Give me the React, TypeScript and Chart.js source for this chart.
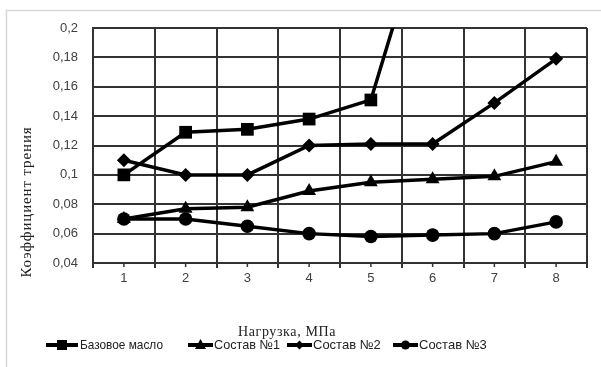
import React, { useEffect, useRef } from 'react';
import { Chart, registerables } from 'chart.js';

Chart.register(...registerables);

// ---- Data ----
const categories = ['1', '2', '3', '4', '5', '6', '7', '8'];
const baseOil = [0.1, 0.129, 0.131, 0.138, 0.151, 0.29, null, null];
const comp1 = [0.07, 0.077, 0.078, 0.089, 0.095, 0.097, 0.099, 0.109];
const comp2 = [0.11, 0.1, 0.1, 0.12, 0.121, 0.121, 0.149, 0.179];
const comp3 = [0.07, 0.07, 0.065, 0.06, 0.058, 0.059, 0.06, 0.068];
const seriesNames = ['Базовое масло', 'Состав №1', 'Состав №2', 'Состав №3'];
const seriesMarkers = ['rect', 'triangle', 'rectRot', 'circle'];
const yTitle = 'Коэффициент трения';
const xTitle = 'Нагрузка, МПа';
const yMin = 0.04;
const yMax = 0.2;
const yStep = 0.02;

const GRID = '#333333';
const TICK_COLOR = '#404040';

function drawMarker(ctx: CanvasRenderingContext2D, style: string, x: number, y: number, s: number) {
  ctx.beginPath();
  if (style === 'rect') {
    ctx.rect(x - s / 2, y - s / 2, s, s);
  } else if (style === 'triangle') {
    ctx.moveTo(x, y - s * 0.6);
    ctx.lineTo(x + s * 0.55, y + s * 0.4);
    ctx.lineTo(x - s * 0.55, y + s * 0.4);
    ctx.closePath();
  } else if (style === 'rectRot') {
    ctx.moveTo(x, y - s / 2);
    ctx.lineTo(x + s / 2, y);
    ctx.lineTo(x, y + s / 2);
    ctx.lineTo(x - s / 2, y);
    ctx.closePath();
  } else {
    ctx.arc(x, y, s / 2, 0, Math.PI * 2);
  }
  ctx.fill();
}

function fitText(ctx: CanvasRenderingContext2D, text: string, target: number) {
  (ctx as any).letterSpacing = '0px';
  const w = ctx.measureText(text).width;
  const ls = (target - w) / Math.max(1, text.length);
  (ctx as any).letterSpacing = `${ls.toFixed(2)}px`;
}

const decorPlugin = {
  id: 'decor',
  beforeDraw(chart: any) {
    const ctx = chart.ctx as CanvasRenderingContext2D;
    ctx.save();
    ctx.fillStyle = '#ffffff';
    ctx.fillRect(0, 0, chart.width, chart.height);
    ctx.strokeStyle = '#d8d8d8';
    ctx.lineWidth = 1.5;
    ctx.strokeRect(6.5, 10.5, 800, 600);
    ctx.restore();
  },
  afterDraw(chart: any) {
    const ctx = chart.ctx as CanvasRenderingContext2D;
    const xs = chart.scales.x;
    ctx.save();
    // center tick marks on the category axis
    ctx.strokeStyle = GRID;
    ctx.lineWidth = 1.5;
    for (let i = 0; i < categories.length; i++) {
      const px = xs.getPixelForValue(i);
      ctx.beginPath();
      ctx.moveTo(px, xs.top);
      ctx.lineTo(px, xs.top + 4);
      ctx.stroke();
    }

    // y axis title
    ctx.fillStyle = '#222';
    ctx.font = '15px "Liberation Serif", serif';
    ctx.textAlign = 'center';
    ctx.textBaseline = 'middle';
    ctx.save();
    ctx.translate(27, 202);
    ctx.rotate(-Math.PI / 2);
    fitText(ctx, yTitle, 151);
    ctx.fillText(yTitle, 0, 0);
    ctx.restore();

    // x axis title
    ctx.font = '14px "Liberation Serif", serif';
    fitText(ctx, xTitle, 98);
    ctx.fillText(xTitle, 287, 332);
    (ctx as any).letterSpacing = '0px';

    // legend
    const items = [
      { l0: 46, l1: 78, tx: 80, tw: 83 },
      { l0: 188, l1: 213, tx: 214, tw: 66 },
      { l0: 287, l1: 312, tx: 313, tw: 68 },
      { l0: 393, l1: 418, tx: 419, tw: 70 },
    ];
    const ly = 345;
    const sizes = [10, 10, 9, 9];
    items.forEach((it, i) => {
      ctx.strokeStyle = '#000';
      ctx.fillStyle = '#000';
      ctx.lineWidth = 4;
      ctx.beginPath();
      ctx.moveTo(it.l0, ly);
      ctx.lineTo(it.l1, ly);
      ctx.stroke();
      drawMarker(ctx, seriesMarkers[i], (it.l0 + it.l1) / 2, ly, sizes[i]);
      ctx.fillStyle = '#222';
      ctx.font = '13px "Liberation Sans Narrow", "Liberation Sans", sans-serif';
      ctx.textAlign = 'left';
      ctx.textBaseline = 'middle';
      ctx.fillText(seriesNames[i], it.tx, ly, it.tw);
    });
    ctx.restore();
  },
};

export default function App() {
  const ref = useRef<HTMLCanvasElement | null>(null);

  useEffect(() => {
    document.body.style.margin = '0';
    const canvas = ref.current;
    if (!canvas) return;
    const all = [baseOil, comp1, comp2, comp3];
    const radii = [9, 8, 7, 6.8];
    const chart = new Chart(canvas, {
      type: 'line',
      data: {
        labels: categories,
        datasets: all.map((d, i) => ({
          label: seriesNames[i],
          data: d,
          borderColor: '#000',
          backgroundColor: '#000',
          borderWidth: 3.5,
          pointStyle: seriesMarkers[i] as any,
          pointRadius: radii[i],
          pointBorderWidth: 0,
          pointBackgroundColor: '#000',
          tension: 0,
          spanGaps: false,
        })),
      },
      options: {
        animation: false,
        responsive: true,
        maintainAspectRatio: false,
        layout: { padding: { top: 28, right: 14, left: 0, bottom: 0 } },
        plugins: {
          legend: { display: false },
          tooltip: { enabled: false },
          title: { display: false },
        },
        scales: {
          x: {
            type: 'category',
            offset: true,
            grid: {
              offset: true,
              color: GRID,
              lineWidth: 2,
              drawTicks: true,
              tickLength: 5,
              tickColor: GRID,
            },
            border: { color: GRID, width: 2 },
            ticks: {
              color: TICK_COLOR,
              font: { family: '"Liberation Sans", sans-serif', size: 13 },
              padding: 3,
              maxRotation: 0,
            },
            afterFit: (scale: any) => {
              scale.height = 104;
            },
          },
          y: {
            min: yMin,
            max: yMax,
            grid: {
              color: GRID,
              lineWidth: 2,
              drawTicks: false,
            },
            border: { color: GRID, width: 2 },
            ticks: {
              stepSize: yStep,
              color: TICK_COLOR,
              padding: 15,
              font: { family: '"Liberation Sans", sans-serif', size: 13 },
              callback: (v: any) => Number(Number(v).toFixed(2)).toString().replace('.', ','),
            },
            afterFit: (scale: any) => {
              scale.width = 93;
            },
          },
        },
      },
      plugins: [decorPlugin],
    });
    return () => chart.destroy();
  }, []);

  return (
    <div style={{ position: 'fixed', left: 0, top: 0, width: 601, height: 367 }}>
      <canvas ref={ref} />
    </div>
  );
}
